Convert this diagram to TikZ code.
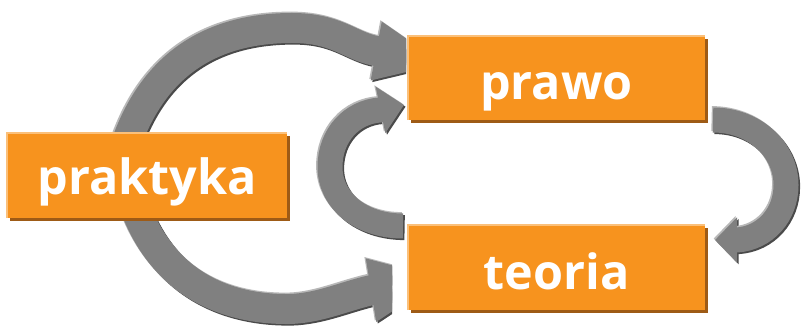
\documentclass[tikz,border=0pt]{standalone}
\usepackage{fontspec}
\setmainfont{Open Sans}
\usetikzlibrary{arrows.meta,shadows}
\definecolor{boxorange}{HTML}{F7931E}
\definecolor{boxshadow}{HTML}{9E5B16}
\definecolor{boxlight}{HTML}{FBC07A}
\definecolor{arrgray}{HTML}{808080}
\definecolor{arrlight}{HTML}{B8B8B8}
\definecolor{arrdark}{HTML}{4A4A4A}
\newcommand\bevelarrow[2]{%
  \begin{scope}[transform canvas={shift={(1.6pt,-1.6pt)}}]\draw[arrdark,#1] #2;\end{scope}
  \begin{scope}[transform canvas={shift={(-1.4pt,1.4pt)}}]\draw[arrlight,#1] #2;\end{scope}
  \draw[arrgray,#1] #2;}
\begin{document}
\begin{tikzpicture}[x=1pt,y=-1pt,
  box/.style={minimum width=297pt, minimum height=84pt, inner sep=0pt, fill=boxorange,
    text=white, font=\fontsize{48.5}{48.5}\selectfont\bfseries, text depth=0pt,
    general shadow={shadow xshift=3pt, shadow yshift=-3pt, fill=boxshadow}},
  boxedge/.style={boxlight, line width=2pt},
  bigarrow/.style={line width=30pt},
  smallarrow/.style={line width=25pt}]
\useasboundingbox (0,0) rectangle (802,328);

% coordinates of the connectors
\coordinate (a0) at (110,215);
\coordinate (a1) at (292,28);
\coordinate (a2) at (376,51);
\coordinate (a3) at (445,64);
\coordinate (b0) at (128,185);
\coordinate (b1) at (290,309);
\coordinate (b2) at (372,290);
\coordinate (b3) at (445,278);
\coordinate (c0) at (403,226);
\coordinate (c1) at (330,167);
\coordinate (c2) at (380,110);
\coordinate (c3) at (404,105);
\coordinate (d0) at (713,120);
\coordinate (d1) at (786,185);
\coordinate (d2) at (737,240);
\coordinate (d3) at (715,240);

% big arc praktyka -> prawo
\begin{scope}
\clip (0,0) rectangle (406,328);
\bevelarrow{bigarrow,-{Triangle[length=70pt,width=54pt]}}{(a0) .. controls (126,86) and (190,28) .. (a1) .. controls (337,28) and (350,46) .. (a2) -- (a3)}
\end{scope}
% big arc praktyka -> teoria
\begin{scope}
\clip (0,0) rectangle (392,328);
\bevelarrow{bigarrow,-{Triangle[length=75pt,width=58pt]}}{(b0) .. controls (150,270) and (210,310) .. (b1) .. controls (320,308) and (345,296) .. (b2) -- (b3)}
\end{scope}
% small arc teoria -> prawo
\bevelarrow{smallarrow,-{Triangle[length=24pt,width=46pt]}}{(c0) .. controls (360,226) and (330,200) .. (c1) .. controls (330,135) and (352,112) .. (c2) -- (c3)}
% small arc prawo -> teoria
\bevelarrow{smallarrow,-{Triangle[length=22pt,width=44pt]}}{(d0) .. controls (755,120) and (786,150) .. (d1) .. controls (786,215) and (765,238) .. (d2) -- (d3)}

% boxes
\node[box, minimum width=280pt, minimum height=85pt, text height=39pt] (praktyka) at (147,175.5) {praktyka};
\node[box, text height=44pt] (prawo) at (556.5,78) {prawo};
\node[box, minimum height=85pt, text height=45pt] (teoria) at (556.5,267.5) {teoria};
\foreach \n in {praktyka,prawo,teoria}
  \draw[boxedge] (\n.south west) -- (\n.north west) -- (\n.north east);
\end{tikzpicture}
\end{document}
